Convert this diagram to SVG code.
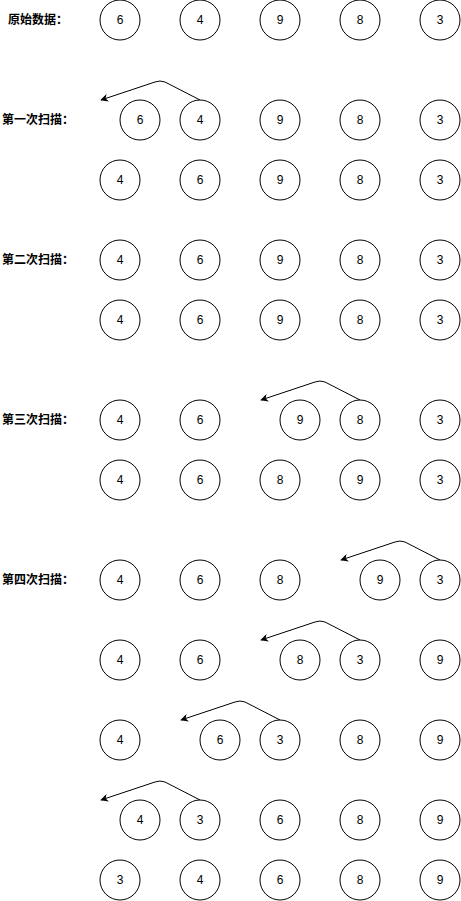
<svg xmlns="http://www.w3.org/2000/svg" width="461" height="901" viewBox="0 0 461 901">
<style>
.n circle{fill:#fff;stroke:#000;stroke-width:1}
.n text{font-family:"Liberation Sans","Noto Sans CJK SC",sans-serif;font-size:12px;text-anchor:middle;dominant-baseline:central;fill:#000}
.lbl{font-family:"Liberation Sans","Noto Sans CJK SC",sans-serif;font-size:12px;font-weight:bold;text-anchor:middle;dominant-baseline:central;fill:#000}
.c path{fill:none;stroke:#000;stroke-width:1;marker-end:url(#ah)}
</style>
<defs>
<marker id="ah" viewBox="0 0 10 10" refX="9" refY="5" markerWidth="8" markerHeight="8" markerUnits="userSpaceOnUse" orient="auto">
<path d="M0,0 L10,5 L0,10 L3,5 Z" fill="#000"/>
</marker>
</defs>
<rect width="461" height="901" fill="#fff"/>
<g id="labels">
<text class="lbl" x="38" y="20">原始数据：</text>
<text class="lbl" x="38" y="120">第一次扫描：</text>
<text class="lbl" x="38" y="260">第二次扫描：</text>
<text class="lbl" x="38" y="420">第三次扫描：</text>
<text class="lbl" x="38" y="580">第四次扫描：</text>
</g>
<g id="connectors" class="c">
<path d="M200,100 L165,82 Q160,80 155,82 L101,100"/>
<path d="M360,400 L325,382 Q320,380 315,382 L261,400"/>
<path d="M440,560 L405,542 Q400,540 395,542 L341,560"/>
<path d="M360,640 L325,622 Q320,620 315,622 L261,640"/>
<path d="M280,720 L245,702 Q240,700 235,702 L181,720"/>
<path d="M200,800 L165,782 Q160,780 155,782 L101,800"/>
</g>
<g id="r1" class="n">
<g id="r1a"><circle cx="120" cy="20" r="20"/><text x="120" y="20">6</text></g>
<g id="r1b"><circle cx="200" cy="20" r="20"/><text x="200" y="20">4</text></g>
<g id="r1c"><circle cx="280" cy="20" r="20"/><text x="280" y="20">9</text></g>
<g id="r1d"><circle cx="360" cy="20" r="20"/><text x="360" y="20">8</text></g>
<g id="r1e"><circle cx="440" cy="20" r="20"/><text x="440" y="20">3</text></g>
</g>
<g id="r2" class="n">
<g id="r2a"><circle cx="140" cy="120" r="20"/><text x="140" y="120">6</text></g>
<g id="r2b"><circle cx="200" cy="120" r="20"/><text x="200" y="120">4</text></g>
<g id="r2c"><circle cx="280" cy="120" r="20"/><text x="280" y="120">9</text></g>
<g id="r2d"><circle cx="360" cy="120" r="20"/><text x="360" y="120">8</text></g>
<g id="r2e"><circle cx="440" cy="120" r="20"/><text x="440" y="120">3</text></g>
</g>
<g id="r3" class="n">
<g id="r3a"><circle cx="120" cy="180" r="20"/><text x="120" y="180">4</text></g>
<g id="r3b"><circle cx="200" cy="180" r="20"/><text x="200" y="180">6</text></g>
<g id="r3c"><circle cx="280" cy="180" r="20"/><text x="280" y="180">9</text></g>
<g id="r3d"><circle cx="360" cy="180" r="20"/><text x="360" y="180">8</text></g>
<g id="r3e"><circle cx="440" cy="180" r="20"/><text x="440" y="180">3</text></g>
</g>
<g id="r4" class="n">
<g id="r4a"><circle cx="120" cy="260" r="20"/><text x="120" y="260">4</text></g>
<g id="r4b"><circle cx="200" cy="260" r="20"/><text x="200" y="260">6</text></g>
<g id="r4c"><circle cx="280" cy="260" r="20"/><text x="280" y="260">9</text></g>
<g id="r4d"><circle cx="360" cy="260" r="20"/><text x="360" y="260">8</text></g>
<g id="r4e"><circle cx="440" cy="260" r="20"/><text x="440" y="260">3</text></g>
</g>
<g id="r5" class="n">
<g id="r5a"><circle cx="120" cy="320" r="20"/><text x="120" y="320">4</text></g>
<g id="r5b"><circle cx="200" cy="320" r="20"/><text x="200" y="320">6</text></g>
<g id="r5c"><circle cx="280" cy="320" r="20"/><text x="280" y="320">9</text></g>
<g id="r5d"><circle cx="360" cy="320" r="20"/><text x="360" y="320">8</text></g>
<g id="r5e"><circle cx="440" cy="320" r="20"/><text x="440" y="320">3</text></g>
</g>
<g id="r6" class="n">
<g id="r6a"><circle cx="120" cy="420" r="20"/><text x="120" y="420">4</text></g>
<g id="r6b"><circle cx="200" cy="420" r="20"/><text x="200" y="420">6</text></g>
<g id="r6c"><circle cx="300" cy="420" r="20"/><text x="300" y="420">9</text></g>
<g id="r6d"><circle cx="360" cy="420" r="20"/><text x="360" y="420">8</text></g>
<g id="r6e"><circle cx="440" cy="420" r="20"/><text x="440" y="420">3</text></g>
</g>
<g id="r7" class="n">
<g id="r7a"><circle cx="120" cy="480" r="20"/><text x="120" y="480">4</text></g>
<g id="r7b"><circle cx="200" cy="480" r="20"/><text x="200" y="480">6</text></g>
<g id="r7c"><circle cx="280" cy="480" r="20"/><text x="280" y="480">8</text></g>
<g id="r7d"><circle cx="360" cy="480" r="20"/><text x="360" y="480">9</text></g>
<g id="r7e"><circle cx="440" cy="480" r="20"/><text x="440" y="480">3</text></g>
</g>
<g id="r8" class="n">
<g id="r8a"><circle cx="120" cy="580" r="20"/><text x="120" y="580">4</text></g>
<g id="r8b"><circle cx="200" cy="580" r="20"/><text x="200" y="580">6</text></g>
<g id="r8c"><circle cx="280" cy="580" r="20"/><text x="280" y="580">8</text></g>
<g id="r8d"><circle cx="380" cy="580" r="20"/><text x="380" y="580">9</text></g>
<g id="r8e"><circle cx="440" cy="580" r="20"/><text x="440" y="580">3</text></g>
</g>
<g id="r9" class="n">
<g id="r9a"><circle cx="120" cy="660" r="20"/><text x="120" y="660">4</text></g>
<g id="r9b"><circle cx="200" cy="660" r="20"/><text x="200" y="660">6</text></g>
<g id="r9c"><circle cx="300" cy="660" r="20"/><text x="300" y="660">8</text></g>
<g id="r9d"><circle cx="360" cy="660" r="20"/><text x="360" y="660">3</text></g>
<g id="r9e"><circle cx="440" cy="660" r="20"/><text x="440" y="660">9</text></g>
</g>
<g id="r10" class="n">
<g id="r10a"><circle cx="120" cy="740" r="20"/><text x="120" y="740">4</text></g>
<g id="r10b"><circle cx="220" cy="740" r="20"/><text x="220" y="740">6</text></g>
<g id="r10c"><circle cx="280" cy="740" r="20"/><text x="280" y="740">3</text></g>
<g id="r10d"><circle cx="360" cy="740" r="20"/><text x="360" y="740">8</text></g>
<g id="r10e"><circle cx="440" cy="740" r="20"/><text x="440" y="740">9</text></g>
</g>
<g id="r11" class="n">
<g id="r11a"><circle cx="140" cy="820" r="20"/><text x="140" y="820">4</text></g>
<g id="r11b"><circle cx="200" cy="820" r="20"/><text x="200" y="820">3</text></g>
<g id="r11c"><circle cx="280" cy="820" r="20"/><text x="280" y="820">6</text></g>
<g id="r11d"><circle cx="360" cy="820" r="20"/><text x="360" y="820">8</text></g>
<g id="r11e"><circle cx="440" cy="820" r="20"/><text x="440" y="820">9</text></g>
</g>
<g id="r12" class="n">
<g id="r12a"><circle cx="120" cy="880" r="20"/><text x="120" y="880">3</text></g>
<g id="r12b"><circle cx="200" cy="880" r="20"/><text x="200" y="880">4</text></g>
<g id="r12c"><circle cx="280" cy="880" r="20"/><text x="280" y="880">6</text></g>
<g id="r12d"><circle cx="360" cy="880" r="20"/><text x="360" y="880">8</text></g>
<g id="r12e"><circle cx="440" cy="880" r="20"/><text x="440" y="880">9</text></g>
</g>
</svg>
